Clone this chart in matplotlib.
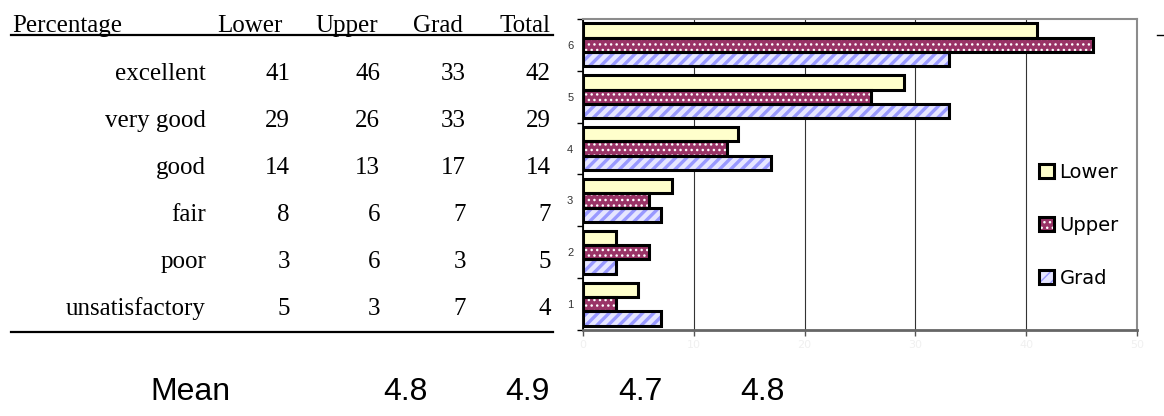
import matplotlib
matplotlib.use("Agg")
import matplotlib.pyplot as plt
from matplotlib.lines import Line2D
from matplotlib.legend_handler import HandlerTuple

# Survey ratings (percent of respondents per group)
categories = ["excellent", "very good", "good", "fair", "poor", "unsatisfactory"]
levels = [6, 5, 4, 3, 2, 1]
lower = [41, 29, 14, 8, 3, 5]
upper = [46, 26, 13, 6, 6, 3]
grad = [33, 33, 17, 7, 3, 7]
total = [42, 29, 14, 7, 5, 4]
columns = ["Lower", "Upper", "Grad", "Total"]
means = [4.8, 4.9, 4.7, 4.8]
xticks = [0, 10, 20, 30, 40, 50]
xticklabels = ["0", "10", "20", "30", "40", "50"]

W, H = 1164, 416
fig = plt.figure(figsize=(W / 100, H / 100), dpi=100)
fig.patch.set_facecolor("white")


def fx(x):
    return x / W


def fy(y):
    return 1 - y / H


serif = "Liberation Serif"
tsize = 18

# ---- table on the left ----
fig.text(fx(12), fy(32), "Percentage", family=serif, size=tsize, ha="left", va="baseline")
head_right = [283, 378, 463, 551]
num_right = [290, 380, 466, 551]
for name, xr in zip(columns, head_right):
    fig.text(fx(xr), fy(32), name, family=serif, size=tsize, ha="right", va="baseline")

row_base = [80, 127, 174, 221, 268, 315]
table = [lower, upper, grad, total]
for i, cat in enumerate(categories):
    fig.text(fx(206), fy(row_base[i]), cat, family=serif, size=tsize, ha="right", va="baseline")
    for col, xr in zip(table, num_right):
        fig.text(fx(xr), fy(row_base[i]), str(col[i]), family=serif, size=tsize,
                 ha="right", va="baseline")

for yy in (35, 332):
    fig.add_artist(Line2D([fx(11), fx(553)], [fy(yy), fy(yy)], color="black", lw=1.6))

# ---- mean row ----
msize = 23
fig.text(fx(150), fy(392), "Mean", family="Liberation Sans", size=msize, ha="left", va="center")
for m, xl in zip(means, [383, 505, 618, 740]):
    fig.text(fx(xl), fy(392), f"{m:.1f}", family="Liberation Sans", size=msize,
             ha="left", va="center")

# ---- bar chart ----
ax = fig.add_axes([fx(583), fy(330), fx(1137) - fx(583), fy(19) - fy(330)])
h = 0.277
edge_lw = 2.2

series = [
    ("Lower", lower, +h, dict(color="#FFFFCC")),
    ("Upper", upper, 0.0, dict(color="#993366", hatch="...", edgecolor="#ffffff")),
    ("Grad", grad, -h, dict(color="#E6E6FF", hatch="///", edgecolor="#9999FF")),
]

handles = []
for name, vals, off, style in series:
    ys = [lv + off for lv in levels]
    lw_h = 1.0 if name == "Upper" else 2.4
    with plt.rc_context({"hatch.linewidth": lw_h}):
        face = ax.barh(ys, vals, height=h, color=style["color"],
                       hatch=style.get("hatch"), edgecolor=style.get("edgecolor", "none"),
                       linewidth=0, zorder=3)
    edge = ax.barh(ys, vals, height=h, fill=False, edgecolor="black",
                   linewidth=edge_lw, zorder=4)
    handles.append((face.patches[0], edge.patches[0]))

ax.set_xlim(0, 50)
ax.set_ylim(0.5, 6.5)
ax.set_xticks(xticks)
ax.set_xticklabels(xticklabels, color="#f0f0f0", fontsize=8)
ax.set_yticks(levels)
ax.set_yticklabels([str(l) for l in levels], family="Liberation Sans", fontsize=8, color="#333333")
ax.set_yticks([0.5 + k for k in range(7)], minor=True)
ax.tick_params(axis="y", which="major", length=0, pad=7)
ax.tick_params(axis="y", which="minor", length=4, width=1, color="black", direction="out")
ax.tick_params(axis="x", which="major", length=4, width=1, color="#555555", direction="out")

ax.grid(axis="x", color="#333333", lw=0.8, zorder=1)
ax.set_axisbelow(True)
for side in ("top", "right"):
    ax.spines[side].set_color("#8c8c8c")
    ax.spines[side].set_linewidth(1.5)
ax.spines["left"].set_color("black")
ax.spines["left"].set_linewidth(1.3)
ax.spines["bottom"].set_color("#666666")
ax.spines["bottom"].set_linewidth(2.0)

leg = ax.legend(handles, [s[0] for s in series],
                handler_map={tuple: HandlerTuple(ndivide=1, pad=0)},
                loc="upper left", bbox_to_anchor=(fx(1039), fy(163)),
                bbox_transform=fig.transFigure, frameon=False, borderpad=0,
                borderaxespad=0, handlelength=0.75, handleheight=0.75,
                handletextpad=0.3, labelspacing=1.75,
                prop={"family": "DejaVu Sans", "size": 14})

fig.add_artist(Line2D([fx(1157), fx(1164)], [fy(35), fy(35)], color="black", lw=1.0))

fig.savefig("out.png", dpi=100)
